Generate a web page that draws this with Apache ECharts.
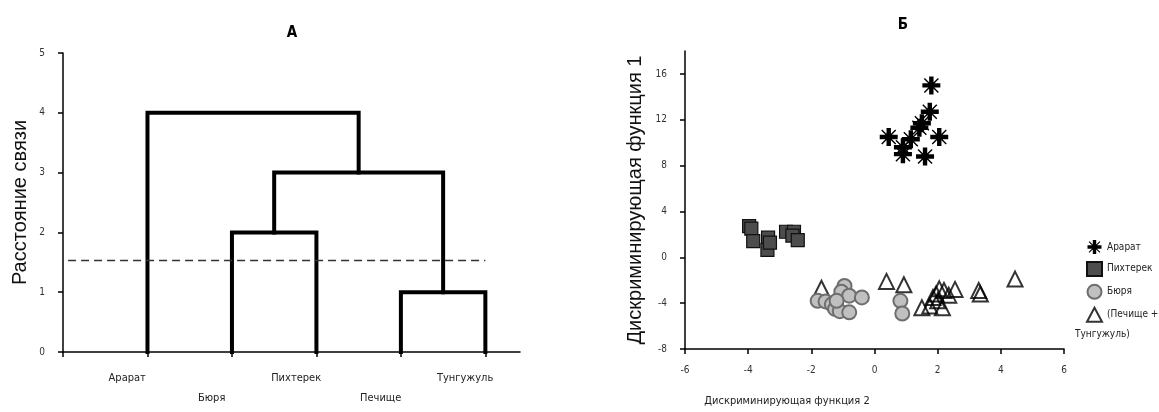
<!DOCTYPE html>
<html>
<head>
<meta charset="utf-8">
<script src="https://cdn.jsdelivr.net/npm/echarts@6/dist/echarts.min.js"></script>
<style>
  html, body { margin: 0; padding: 0; background: #fff; }
  #chart { width: 1159px; height: 412px; }
</style>
</head>
<body>
<div id="chart"></div>
<script>
// --- A: dendrogram ---
const leafNames = ['Арарат', 'Бюря', 'Пихтерек', 'Печище', 'Тунгужуль']
const leafPos = [1, 2, 3, 4, 5]
// links: [xLeft, yLeftBottom, xRight, yRightBottom, height]
const links = [
  [4, 0, 5, 0, 1],
  [2, 0, 3, 0, 2],
  [2.5, 2, 4.5, 1, 3],
  [1, 0, 3.5, 3, 4]
]
const cutLevel = 1.53
const cutFrom = 0.06
const cutTo = 5

// --- Б: discriminant scatter ---
const ararat = [
  [1.8, 15.0], [1.75, 12.7], [1.5, 11.7], [1.42, 11.3], [0.45, 10.5],
  [1.15, 10.3], [0.9, 9.6], [0.9, 9.0], [1.6, 8.8], [2.05, 10.5]
]
const pikhterek = [
  [-3.97, 2.72], [-3.9, 2.5], [-3.84, 1.42], [-3.37, 1.71], [-3.39, 0.64],
  [-3.31, 1.28], [-2.8, 2.23], [-2.55, 2.23], [-2.6, 1.9], [-2.43, 1.5]
]
const biurya = [
  [-1.8, -3.8], [-1.55, -3.85], [-1.35, -4.1], [-1.25, -4.5], [-1.1, -4.7],
  [-0.8, -4.8], [-0.95, -2.5], [-1.05, -3.0], [-0.8, -3.35], [-0.4, -3.5],
  [-1.2, -3.8], [0.82, -3.8], [0.88, -4.9]
]
const pechische = [
  [-1.68, -2.7], [0.38, -2.1], [0.93, -2.4], [1.5, -4.4], [1.75, -4.25],
  [1.85, -3.5], [1.95, -3.2], [2.05, -2.75], [2.2, -2.9], [2.15, -4.4],
  [2.35, -3.3], [2.55, -2.8], [2.0, -3.8], [3.3, -2.9], [3.35, -3.2],
  [4.45, -1.9]
]
const seriesNames = ['Арарат', 'Пихтерек', 'Бюря', '(Печище +']
const yTicksB = [-8, -4, 0, 4, 8, 12, 16]

// pick a narrow face if one is installed
const hasFont = name => {
  const c = document.createElement('canvas').getContext('2d')
  const s = 'Дискриминирующая abcWM'
  c.font = '20px monospace'
  const w1 = c.measureText(s).width
  c.font = `20px '${name}', monospace`
  return c.measureText(s).width !== w1
}
const narrowName = ['Liberation Sans Narrow', 'Arial Narrow', 'DejaVu Sans Condensed']
  .find(hasFont) || 'Liberation Sans'
const narrow = `'${narrowName}', sans-serif`
const regular = "'Liberation Sans', Arial, sans-serif"

// asterisk symbol: thick cross + thin diagonals
const asterisk = 'path://M7.8,1L12.2,1L12.2,19L7.8,19Z M1,7.8L19,7.8L19,12.2L1,12.2Z ' +
  'M2.5,3.5L3.5,2.5L17.5,16.5L16.5,17.5Z M16.5,2.5L17.5,3.5L3.5,17.5L2.5,16.5Z'

const chart = echarts.init(document.getElementById('chart'))

const axisLine = { onZero: false, lineStyle: { color: '#000', width: 1.5 } }
const axisTick = { length: 5, lineStyle: { color: '#000', width: 1.5 } }
const tickLabel = { fontFamily: narrow, fontSize: 10, color: '#333' }

// label positions sit a bit left of the leaves
const labelShift = 0.24
const labelPos = leafPos.map(p => p - labelShift)

const dendroSeries = links.map(l => ({
  type: 'line',
  xAxisIndex: 0,
  yAxisIndex: 0,
  symbol: 'none',
  silent: true,
  lineStyle: { color: '#000', width: 4, join: 'miter', cap: 'square' },
  data: [[l[0], l[1]], [l[0], l[4]], [l[2], l[4]], [l[2], l[3]]]
}))

const option = {
  animation: false,
  title: [
    { text: 'А', left: 287, top: 21, textAlign: 'center',
      textStyle: { fontFamily: narrow, fontSize: 15, fontWeight: 'bold', color: '#000' } },
    { text: 'Б', left: 898, top: 13, textAlign: 'center',
      textStyle: { fontFamily: narrow, fontSize: 15, fontWeight: 'bold', color: '#000' } }
  ],
  grid: [
    { left: 63, top: 53, width: 457, height: 299 },
    { left: 685, top: 51, width: 379, height: 298 }
  ],
  xAxis: [
    {
      gridIndex: 0,
      type: 'value',
      min: 0,
      max: 5.41,
      axisLine: axisLine,
      axisTick: Object.assign({ customValues: [0, 1, 2, 3, 4, 5] }, axisTick),
      splitLine: { show: false },
      axisLabel: {
        customValues: labelPos,
        margin: 16,
        fontFamily: narrow,
        fontSize: 11,
        color: '#222',
        lineHeight: 20,
        formatter: v => {
          const i = Math.round(v + labelShift) - 1
          return (i % 2 === 1 ? '\n' : '') + leafNames[i]
        }
      }
    },
    {
      gridIndex: 1,
      type: 'value',
      min: -6,
      max: 6,
      interval: 2,
      axisLine: axisLine,
      axisTick: axisTick,
      splitLine: { show: false },
      axisLabel: Object.assign({ margin: 16 }, tickLabel),
      name: 'Дискриминирующая функция 2',
      nameLocation: 'middle',
      nameGap: 47,
      nameTextStyle: { fontFamily: narrow, fontSize: 11, color: '#222', padding: [0, 175, 0, 0] }
    }
  ],
  yAxis: [
    {
      gridIndex: 0,
      type: 'value',
      min: 0,
      max: 5,
      interval: 1,
      axisLine: axisLine,
      axisTick: axisTick,
      splitLine: { show: false },
      axisLabel: Object.assign({ margin: 18 }, tickLabel),
      name: 'Расстояние связи',
      nameLocation: 'middle',
      nameGap: 33,
      nameTextStyle: { fontFamily: regular, fontSize: 20, color: '#111' }
    },
    {
      gridIndex: 1,
      type: 'value',
      min: -8,
      max: 18,
      axisLine: axisLine,
      axisTick: Object.assign({ customValues: yTicksB }, axisTick),
      splitLine: { show: false },
      axisLabel: Object.assign({ customValues: yTicksB, margin: 18 }, tickLabel),
      name: 'Дискриминирующая функция 1',
      nameLocation: 'middle',
      nameGap: 40,
      nameTextStyle: { fontFamily: regular, fontSize: 20, color: '#111' }
    }
  ],
  legend: {
    orient: 'vertical',
    left: 1081,
    top: 235,
    itemWidth: 15,
    itemHeight: 14,
    itemGap: 6.9,
    data: seriesNames,
    textStyle: { fontFamily: narrow, fontSize: 10, lineHeight: 14, color: '#222' }
  },
  graphic: [
    { type: 'text', left: 1075, top: 329,
      style: { text: 'Тунгужуль)', font: '10px ' + narrow, fill: '#222' } }
  ],
  series: dendroSeries.concat([
    {
      type: 'line',
      xAxisIndex: 0,
      yAxisIndex: 0,
      symbol: 'none',
      silent: true,
      lineStyle: { color: '#333', width: 1.5, type: [8, 5] },
      data: [[cutFrom, cutLevel], [cutTo, cutLevel]]
    },
    {
      name: seriesNames[3],
      type: 'scatter',
      xAxisIndex: 1,
      yAxisIndex: 1,
      z: 2,
      symbol: 'triangle',
      symbolSize: 15,
      itemStyle: { color: 'rgba(255,255,255,0)', borderColor: '#000', borderWidth: 2 },
      data: pechische
    },
    {
      name: seriesNames[2],
      type: 'scatter',
      xAxisIndex: 1,
      yAxisIndex: 1,
      z: 3,
      symbol: 'circle',
      symbolSize: 14,
      itemStyle: { color: '#c0c0c0', borderColor: '#6e6e6e', borderWidth: 2, opacity: 1 },
      data: biurya
    },
    {
      name: seriesNames[1],
      type: 'scatter',
      xAxisIndex: 1,
      yAxisIndex: 1,
      z: 3,
      symbol: 'rect',
      symbolSize: 13,
      itemStyle: { color: '#4d4d4d', borderColor: '#111', borderWidth: 1.2, opacity: 1 },
      data: pikhterek
    },
    {
      name: seriesNames[0],
      type: 'scatter',
      xAxisIndex: 1,
      yAxisIndex: 1,
      z: 4,
      symbol: asterisk,
      symbolSize: 18,
      itemStyle: { color: '#000', opacity: 1 },
      data: ararat
    }
  ])
}

chart.setOption(option)
</script>
</body>
</html>
